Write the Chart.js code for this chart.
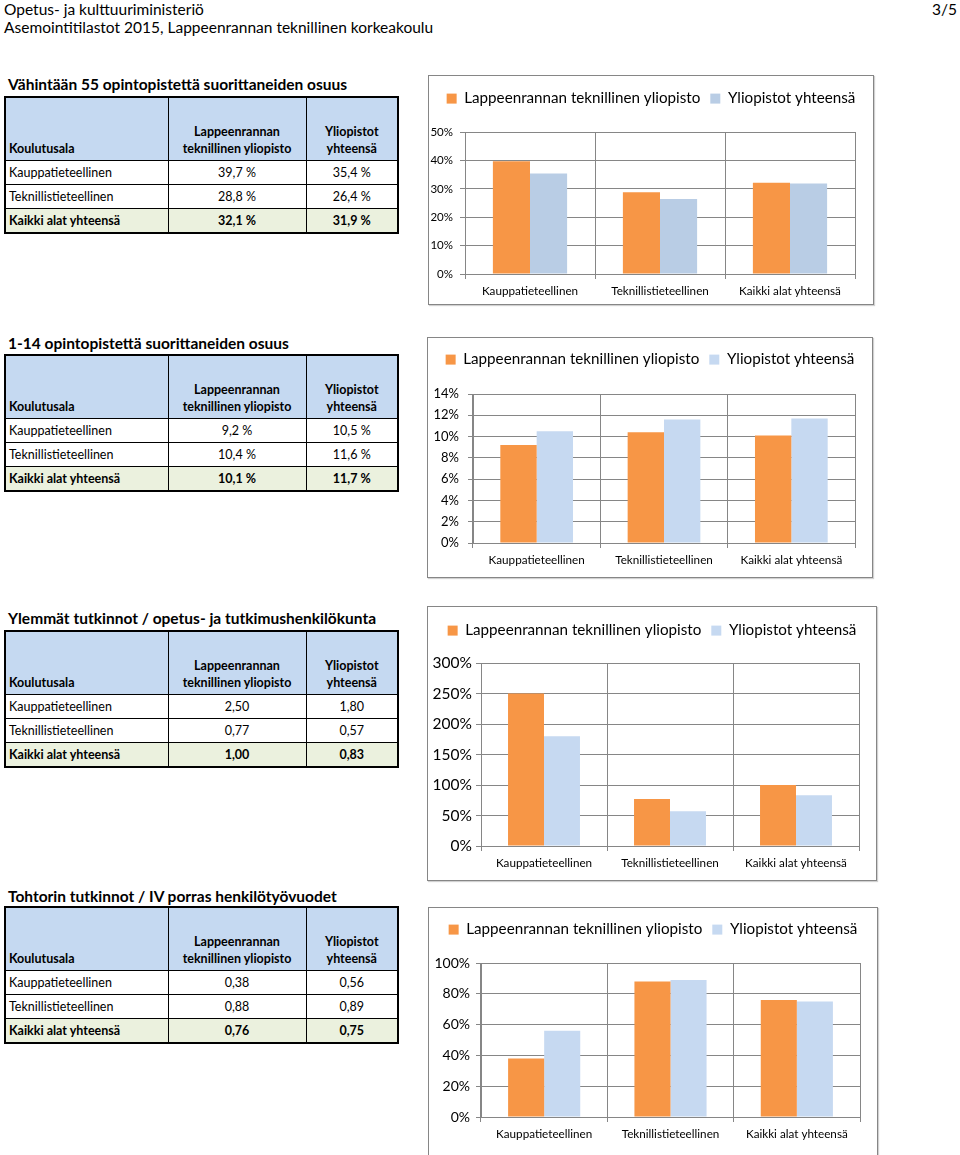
<!DOCTYPE html>
<html lang="fi">
<head>
<meta charset="utf-8">
<title>Asemointitilastot 2015</title>
<script src="https://cdn.jsdelivr.net/npm/chart.js@4.4.1/dist/chart.umd.min.js"></script>
<style>
  body { margin: 0; width: 960px; height: 1155px; background: #fff; font-family: Lato, "Open Sans", sans-serif; color: #000; position: relative; overflow: hidden; }
  .head { position: absolute; left: 4px; font-size: 15.5px; line-height: 18px; }
  .page { position: absolute; right: 3px; top: 0; font-size: 15.5px; line-height: 18px; }
  .title { position: absolute; left: 8px; font-weight: bold; font-size: 15.5px; line-height: 18px; }
  table { position: absolute; left: 4px; width: 393px; border-collapse: collapse; border: 2px solid #000; font-size: 12.5px; table-layout: fixed; }
  td { border: 1px solid #000; padding: 0 3px; height: 23px; text-align: center; }
  td:first-child { text-align: left; }
  tr.hdr td { background: #c5d9f1; font-weight: bold; vertical-align: bottom; line-height: 17px; padding-bottom: 3px; }
  tr.sum td { background: #ebf1de; font-weight: bold; }
  .box { position: absolute; border: 1px solid #868686; box-sizing: border-box; box-shadow: 1px 1px 1px rgba(0,0,0,0.18); background: #fff; }
  .box canvas { position: absolute; left: -1px; top: -1px; }
</style>
</head>
<body>
<div class="head" style="top:0px">Opetus- ja kulttuuriministeriö</div>
<div class="page">3/5</div>
<div class="head" style="top:18px">Asemointitilastot 2015, Lappeenrannan teknillinen korkeakoulu</div>

<div class="title" style="top:75px">Vähintään 55 opintopistettä suorittaneiden osuus</div>
<table id="t1" style="top:96px"></table>
<div class="box" style="left:428px;top:75px;width:446px;height:230px"><canvas id="c1" width="446" height="230"></canvas></div>

<div class="title" style="top:334px">1-14 opintopistettä suorittaneiden osuus</div>
<table id="t2" style="top:354px"></table>
<div class="box" style="left:427px;top:337px;width:446px;height:241px"><canvas id="c2" width="446" height="241"></canvas></div>

<div class="title" style="top:609px">Ylemmät tutkinnot / opetus- ja tutkimushenkilökunta</div>
<table id="t3" style="top:630px"></table>
<div class="box" style="left:427px;top:606px;width:450px;height:275px"><canvas id="c3" width="450" height="275"></canvas></div>

<div class="title" style="top:887px">Tohtorin tutkinnot / IV porras henkilötyövuodet</div>
<table id="t4" style="top:906px"></table>
<div class="box" style="left:428px;top:907px;width:450px;height:250px"><canvas id="c4" width="450" height="250"></canvas></div>

<script>
const categories = ['Kauppatieteellinen', 'Teknillistieteellinen', 'Kaikki alat yhteensä'];
const seriesNames = ['Lappeenrannan teknillinen yliopisto', 'Yliopistot yhteensä'];

// Vähintään 55 op (%)
const lut55 = [39.7, 28.8, 32.1];
const all55 = [35.4, 26.4, 31.9];
const ticks55 = [0, 10, 20, 30, 40, 50];

// 1-14 op (%)
const lut14 = [9.2, 10.4, 10.1];
const all14 = [10.5, 11.6, 11.7];
const ticks14 = [0, 2, 4, 6, 8, 10, 12, 14];

// Ylemmät tutkinnot / opetus- ja tutkimushenkilökunta (suhde)
const lutMasters = [2.50, 0.77, 1.00];
const allMasters = [1.80, 0.57, 0.83];
const ticksMasters = [0, 50, 100, 150, 200, 250, 300];

// Tohtorin tutkinnot / IV porras htv (suhde)
const lutPhd = [0.38, 0.88, 0.76];
const allPhd = [0.56, 0.89, 0.75];
const ticksPhd = [0, 20, 40, 60, 80, 100];

const ORANGE = '#f79646';
const GRID = '#868686';

function fmt(v, digits, pct) {
  return v.toFixed(digits).replace('.', ',') + (pct ? ' %' : '');
}

function buildTable(id, lut, all, digits, pct) {
  let html = '<colgroup><col style="width:163px"><col style="width:138px"><col style="width:92px"></colgroup>';
  html += '<tr class="hdr" style="height:63px"><td>Koulutusala</td><td>Lappeenrannan<br>teknillinen yliopisto</td><td>Yliopistot<br>yhteensä</td></tr>';
  categories.forEach((c, i) => {
    const cls = i === categories.length - 1 ? ' class="sum"' : '';
    html += `<tr${cls}><td>${c}</td><td>${fmt(lut[i], digits, pct)}</td><td>${fmt(all[i], digits, pct)}</td></tr>`;
  });
  document.getElementById(id).innerHTML = html;
}

// geo: plot area inside the canvas, legend centre line, y tick font/padding
function makeChart(id, lut, all, yTicks, blue, geo) {
  const canvas = document.getElementById(id);
  const W = canvas.width, H = canvas.height;
  const padTop = geo.legendY - 18;

  // keep legend on one row, fixed height, centred over the whole box
  const fixLegend = {
    id: 'fixLegend',
    beforeInit(chart) {
      const fit = chart.legend.fit;
      chart.legend.fit = function () {
        this.maxWidth = W;
        fit.call(this);
        this.height = geo.top - padTop;
      };
    },
    afterLayout(chart) {
      chart.legend.left = 0;
      chart.legend.right = W;
      chart.legend.width = W;
    }
  };

  return new Chart(canvas, {
    type: 'bar',
    data: {
      labels: categories,
      datasets: [
        { label: seriesNames[0], data: lut, backgroundColor: ORANGE },
        { label: seriesNames[1], data: all, backgroundColor: blue }
      ]
    },
    options: {
      responsive: false,
      animation: false,
      devicePixelRatio: 1,
      categoryPercentage: 0.571,
      barPercentage: 1,
      layout: { padding: { top: padTop, left: 0, right: W - geo.right, bottom: 0 } },
      scales: {
        x: {
          grid: { color: GRID, offset: true, tickLength: 5, lineWidth: 1 },
          border: { color: GRID },
          ticks: { color: '#000', padding: 5, font: { family: 'Lato', size: 11.7 }, maxRotation: 0 },
          afterFit: s => { s.height = H - geo.bottom; }
        },
        y: {
          min: yTicks[0],
          max: yTicks[yTicks.length - 1],
          grid: { color: GRID, tickLength: 5, lineWidth: 1 },
          border: { color: GRID },
          ticks: {
            stepSize: yTicks[1] - yTicks[0],
            color: '#000',
            padding: geo.tickPad,
            font: { family: 'Lato', size: geo.tickSize },
            callback: v => v + '%'
          },
          afterFit: s => { s.width = geo.left; }
        }
      },
      plugins: {
        legend: {
          position: 'top',
          labels: {
            boxWidth: 10,
            boxHeight: 10,
            padding: 10,
            color: '#000',
            font: { family: 'Lato', size: 15.2 }
          }
        },
        tooltip: { enabled: false }
      }
    },
    plugins: [fixLegend]
  });
}

buildTable('t1', lut55, all55, 1, true);
buildTable('t2', lut14, all14, 1, true);
buildTable('t3', lutMasters, allMasters, 2, false);
buildTable('t4', lutPhd, allPhd, 2, false);

makeChart('c1', lut55, all55, ticks55, '#b9cde5',
  { left: 37, top: 57, right: 427, bottom: 199, legendY: 24, tickSize: 11.5, tickPad: 7 });
makeChart('c2', lut14, all14, ticks14, '#c6d9f1',
  { left: 46, top: 57, right: 428, bottom: 206, legendY: 23, tickSize: 13, tickPad: 9 });
makeChart('c3', lutMasters.map(v => v * 100), allMasters.map(v => v * 100), ticksMasters, '#c6d9f1',
  { left: 54, top: 57, right: 432, bottom: 240, legendY: 25, tickSize: 15.5, tickPad: 4 });
makeChart('c4', lutPhd.map(v => v * 100), allPhd.map(v => v * 100), ticksPhd, '#c6d9f1',
  { left: 53, top: 56, right: 432, bottom: 210, legendY: 23, tickSize: 14, tickPad: 6 });
</script>
</body>
</html>
